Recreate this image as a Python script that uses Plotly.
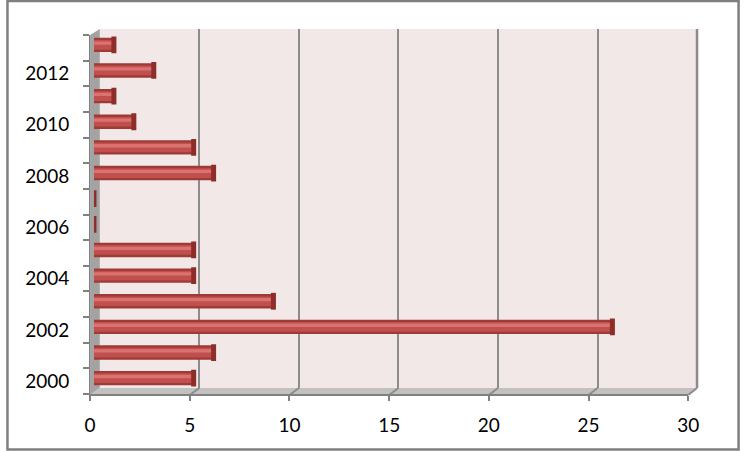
import plotly.graph_objects as go

years = [2000, 2001, 2002, 2003, 2004, 2005, 2006, 2007, 2008, 2009, 2010, 2011, 2012, 2013]
values = [5, 6, 26, 9, 5, 5, 0, 0, 6, 5, 2, 1, 3, 1]
year_labels = [2000, 2002, 2004, 2006, 2008, 2010, 2012]
x_ticks = [0, 5, 10, 15, 20, 25, 30]

W, H = 753, 451
def fx(px):
    return px / W
def fy(py):
    return 1 - py / H

# pixel frames (left, right, top, bottom)
BACK = (96, 707, 29, 388)
MID = (90, 702, 32, 391)
FRONT = (86, 698, 35, 394)

FONT = dict(family="Lato, Open Sans, sans-serif", size=19, color="#000000")

fig = go.Figure()

# subplot A (back wall grid)
fig.add_trace(go.Scatter(x=[], y=[], xaxis="x", yaxis="y", showlegend=False, hoverinfo="skip"))

# subplot B (bars, cylinder-like shading)
fig.add_trace(go.Bar(x=values, y=years, orientation="h", width=0.56,
                     marker=dict(color="#9E3A37", line=dict(width=0)),
                     xaxis="x2", yaxis="y2", showlegend=False))
fig.add_trace(go.Bar(x=values, y=years, orientation="h", width=0.38,
                     marker=dict(color="#C0504D", line=dict(width=0)),
                     xaxis="x2", yaxis="y2", showlegend=False))
fig.add_trace(go.Bar(x=values, y=years, orientation="h", width=0.13, offset=0.0,
                     marker=dict(color="#DB726F", line=dict(width=0)),
                     xaxis="x2", yaxis="y2", showlegend=False))
fig.add_trace(go.Scatter(x=values, y=years, mode="markers",
                         marker=dict(symbol="line-ns-open", size=12, color="#8E2E2B",
                                     line=dict(width=5, color="#8E2E2B")),
                         xaxis="x2", yaxis="y2", showlegend=False, hoverinfo="skip"))

# subplot C (front axes)
fig.add_trace(go.Scatter(x=[], y=[], xaxis="x3", yaxis="y3", showlegend=False, hoverinfo="skip"))

GRID = "#8C8C8C"
AX = "#808080"

shapes = []
# back wall
shapes.append(dict(type="rect", xref="paper", yref="paper", layer="below",
                   x0=fx(BACK[0]), x1=fx(BACK[1]), y0=fy(BACK[3]), y1=fy(BACK[2]),
                   fillcolor="#F3E8E8", line=dict(width=0)))
# left side wall
shapes.append(dict(type="path", xref="paper", yref="paper", layer="below",
                   path=f"M {fx(86)},{fy(35)} L {fx(96)},{fy(29)} L {fx(96)},{fy(388)} L {fx(86)},{fy(395)} Z",
                   fillcolor="#A3A3A3", line=dict(width=0)))
# floor
shapes.append(dict(type="path", xref="paper", yref="paper", layer="below",
                   path=f"M {fx(86)},{fy(395)} L {fx(96)},{fy(388)} L {fx(707)},{fy(388)} L {fx(698)},{fy(395)} Z",
                   fillcolor="#C3C0C0", line=dict(width=0)))
# floor diagonals for grid ticks + right edge
for v in x_ticks[1:]:
    bx = BACK[0] + (BACK[1] - BACK[0]) * v / 30
    fxp = FRONT[0] + (FRONT[1] - FRONT[0]) * v / 30
    shapes.append(dict(type="line", xref="paper", yref="paper", layer="below",
                       x0=fx(bx), y0=fy(388), x1=fx(fxp), y1=fy(395),
                       line=dict(color=GRID, width=2)))
shapes.append(dict(type="line", xref="paper", yref="paper", layer="below",
                   x0=fx(BACK[1]), y0=fy(BACK[2]), x1=fx(BACK[1]), y1=fy(BACK[3]),
                   line=dict(color=GRID, width=2.5)))
# outer frame
shapes.append(dict(type="rect", xref="paper", yref="paper",
                   x0=fx(1.5), x1=fx(749.5), y0=fy(449.5), y1=fy(1),
                   line=dict(color="#7F7F7F", width=2.5), fillcolor="rgba(0,0,0,0)"))

fig.update_layout(
    width=W, height=H,
    margin=dict(l=0, r=0, t=0, b=0),
    paper_bgcolor="#FFFFFF",
    plot_bgcolor="rgba(0,0,0,0)",
    barmode="overlay",
    font=FONT,
    shapes=shapes,
    xaxis=dict(domain=[fx(BACK[0]), fx(BACK[1])], range=[0, 30], anchor="y",
               showgrid=True, gridcolor=GRID, gridwidth=2, dtick=5, tick0=0,
               showticklabels=False, zeroline=False, showline=False, ticks=""),
    yaxis=dict(domain=[fy(BACK[3]), fy(BACK[2])], range=[0, 1], anchor="x",
               visible=False),
    xaxis2=dict(domain=[fx(MID[0]), fx(MID[1])], range=[0, 30], anchor="y2",
                visible=False),
    yaxis2=dict(domain=[fy(MID[3]), fy(MID[2])], range=[1999.5, 2013.5], anchor="x2",
                visible=False),
    xaxis3=dict(domain=[fx(FRONT[0]), fx(FRONT[1])], range=[0, 30], anchor="y3",
                tickvals=x_ticks, ticktext=[str(v) for v in x_ticks],
                ticks="outside", ticklen=5, tickwidth=2, tickcolor=AX,
                showline=True, linecolor=AX, linewidth=2,
                showgrid=False, zeroline=False, ticklabelstandoff=8,
                tickfont=FONT),
    yaxis3=dict(domain=[fy(FRONT[3]), fy(FRONT[2])], range=[1999.5, 2013.5], anchor="x3",
                tickvals=year_labels, ticktext=[str(v) for v in year_labels],
                ticks="", showline=True, linecolor=AX, linewidth=1,
                showgrid=False, zeroline=False, ticklabelstandoff=16,
                tickfont=FONT,
                minor=dict(tickvals=[1999.5 + i for i in range(15)], ticks="outside",
                           ticklen=6, tickwidth=2, tickcolor=AX, showgrid=False)),
)

fig.write_html("out.html",
               config={"displayModeBar": False, "staticPlot": True},
               post_script="document.body.style.margin='0';document.body.style.overflow='hidden';")
